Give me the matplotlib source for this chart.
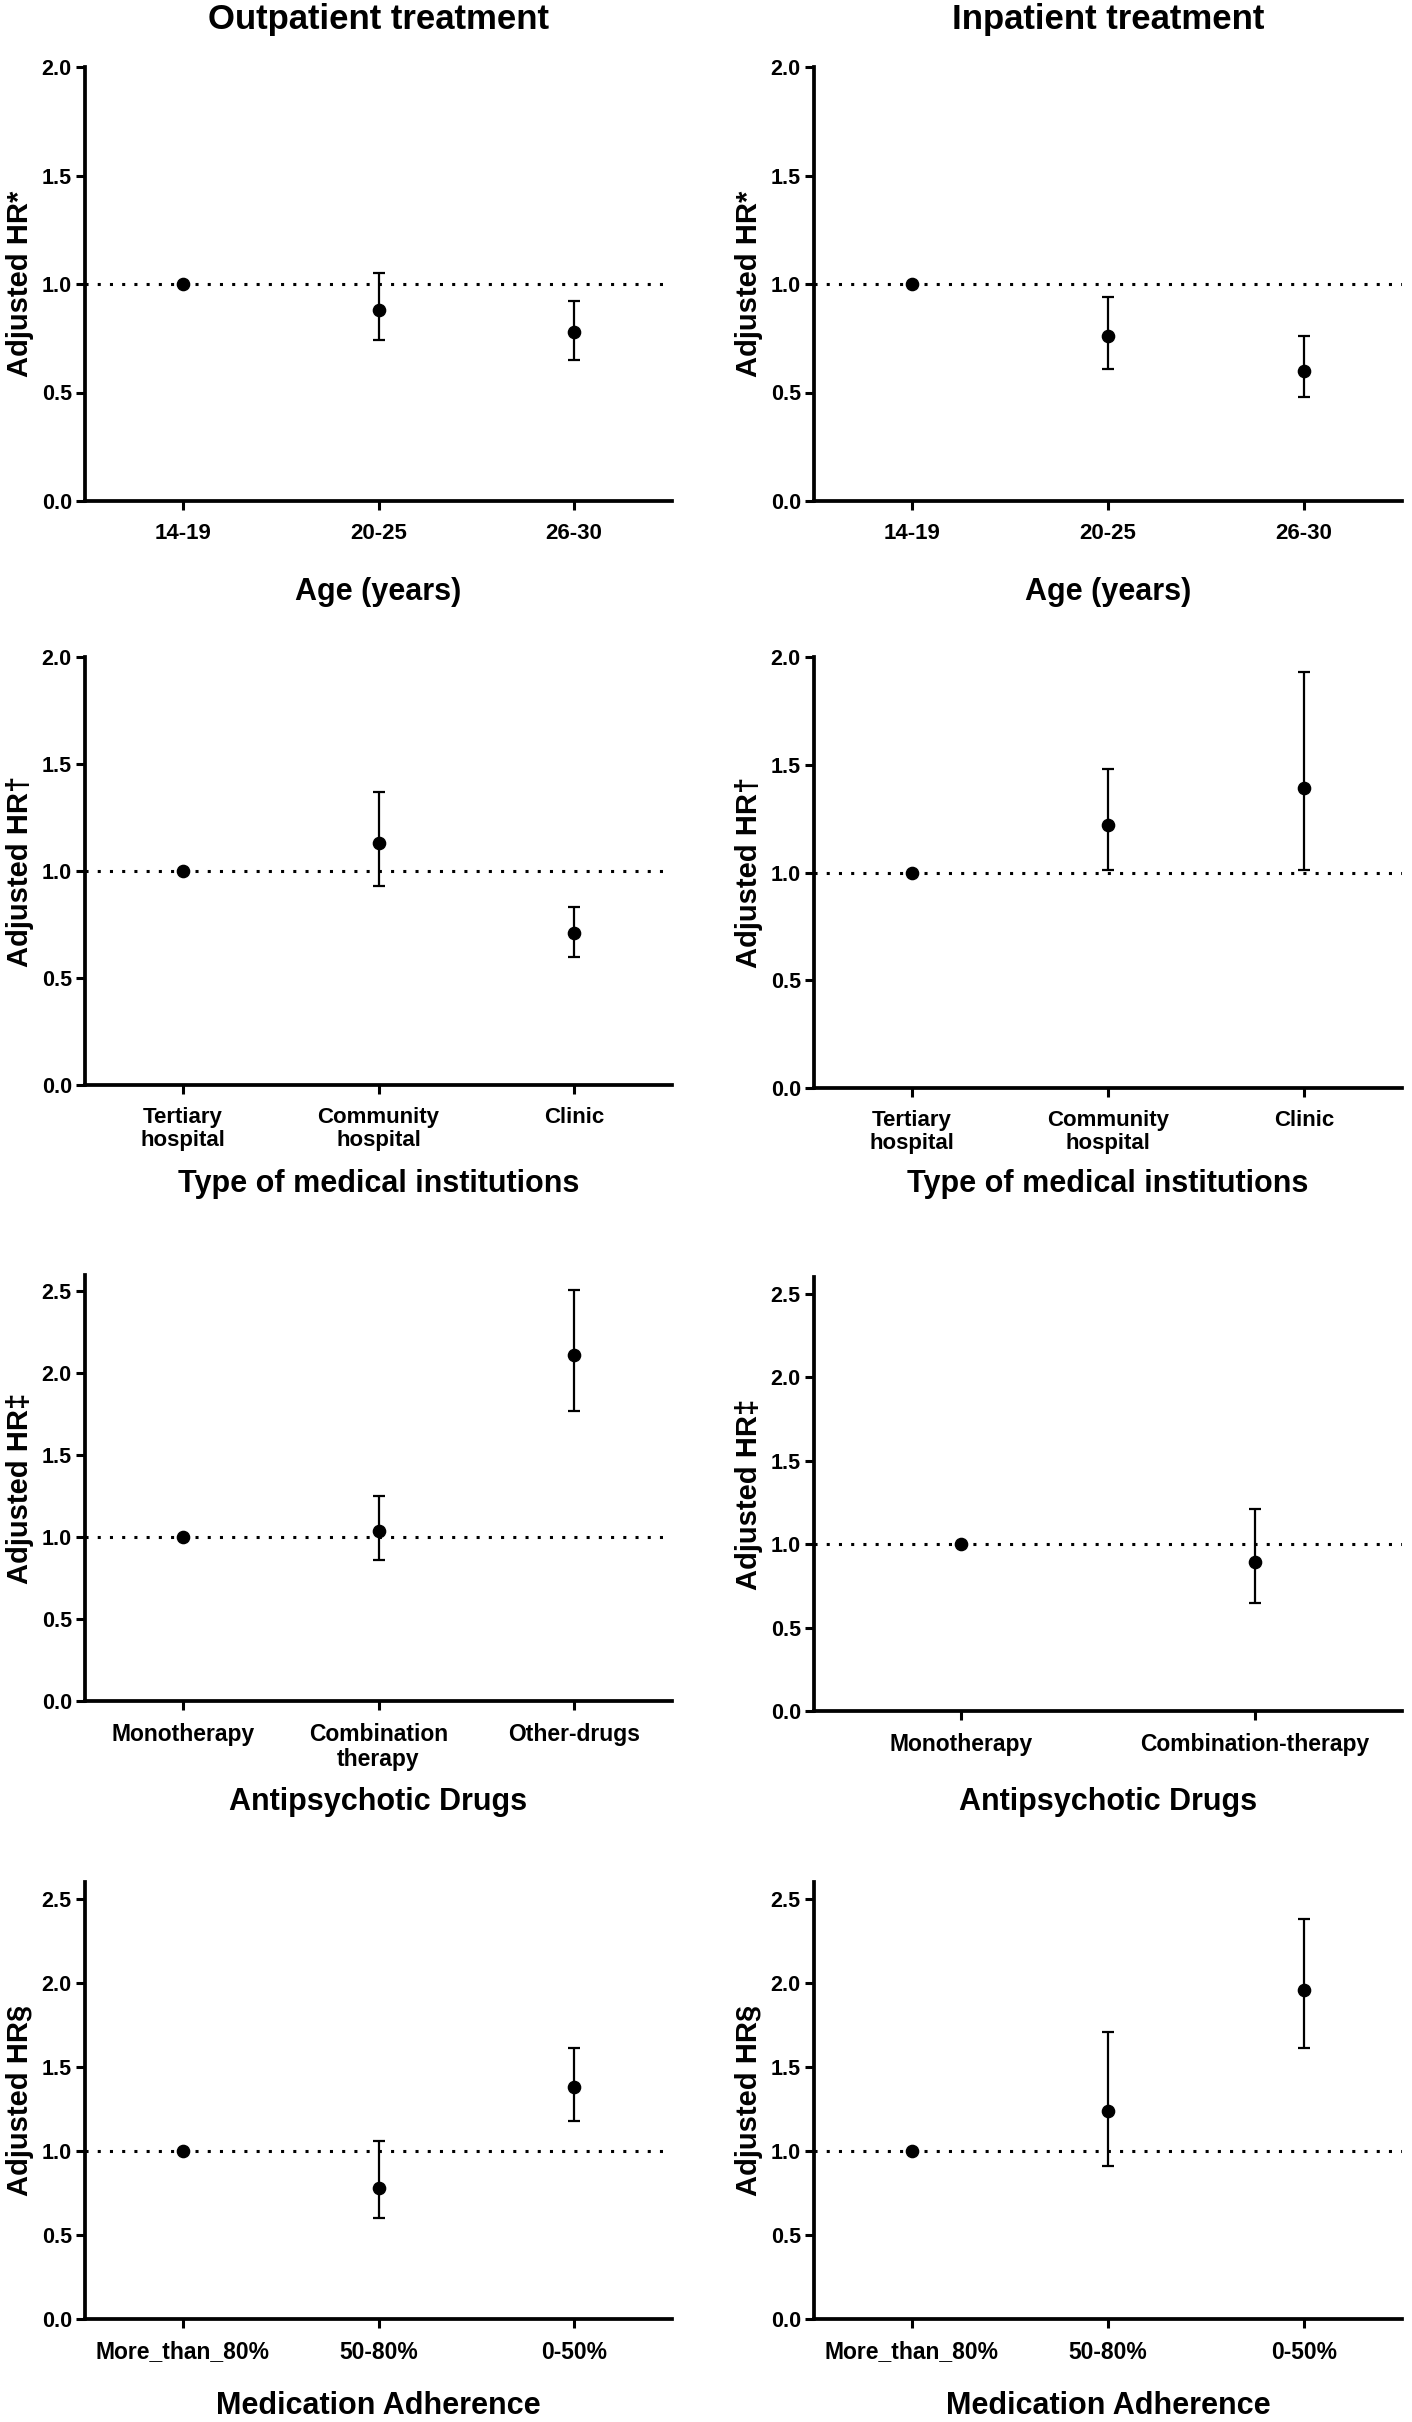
import matplotlib
matplotlib.use("Agg")
import matplotlib.pyplot as plt
import numpy as np

plt.rcParams['font.family'] = ['Liberation Sans', 'DejaVu Sans']
plt.rcParams['font.weight'] = 'bold'

# ---- data ----
age_labels = ['14-19', '20-25', '26-30']
out_age_hr = [1.0, 0.88, 0.78]
out_age_lo = [1.0, 0.74, 0.65]
out_age_hi = [1.0, 1.05, 0.92]
in_age_hr = [1.0, 0.76, 0.60]
in_age_lo = [1.0, 0.61, 0.48]
in_age_hi = [1.0, 0.94, 0.76]

inst_labels = ['Tertiary\nhospital', 'Community\nhospital', 'Clinic']
out_inst_hr = [1.0, 1.13, 0.71]
out_inst_lo = [1.0, 0.93, 0.60]
out_inst_hi = [1.0, 1.37, 0.83]
in_inst_hr = [1.0, 1.22, 1.39]
in_inst_lo = [1.0, 1.01, 1.01]
in_inst_hi = [1.0, 1.48, 1.93]

out_drug_labels = ['Monotherapy', 'Combination\ntherapy', 'Other-drugs']
out_drug_hr = [1.0, 1.04, 2.11]
out_drug_lo = [1.0, 0.86, 1.77]
out_drug_hi = [1.0, 1.25, 2.51]
in_drug_labels = ['Monotherapy', 'Combination-therapy']
in_drug_hr = [1.0, 0.89]
in_drug_lo = [1.0, 0.65]
in_drug_hi = [1.0, 1.21]

adh_labels = ['More_than_80%', '50-80%', '0-50%']
out_adh_hr = [1.0, 0.78, 1.38]
out_adh_lo = [1.0, 0.60, 1.18]
out_adh_hi = [1.0, 1.06, 1.61]
in_adh_hr = [1.0, 1.24, 1.96]
in_adh_lo = [1.0, 0.91, 1.61]
in_adh_hi = [1.0, 1.71, 2.38]

W, H = 1412, 2422
fig = plt.figure(figsize=(W / 100, H / 100), dpi=100)

# panel boxes in pixels: x0, y0 (top), x1, y1 (bottom)
panels = [
    ((85, 67, 672, 501), age_labels, out_age_hr, out_age_lo, out_age_hi,
     'Adjusted HR*', 'Age (years)', 2.0, 16, 592, 'center'),
    ((814, 67, 1402, 501), age_labels, in_age_hr, in_age_lo, in_age_hi,
     'Adjusted HR*', 'Age (years)', 2.0, 16, 592, 'center'),
    ((85, 657, 672, 1085), inst_labels, out_inst_hr, out_inst_lo, out_inst_hi,
     'Adjusted HR\u2020', 'Type of medical institutions', 2.0, 16, 1184, 'center'),
    ((814, 657, 1402, 1088), inst_labels, in_inst_hr, in_inst_lo, in_inst_hi,
     'Adjusted HR\u2020', 'Type of medical institutions', 2.0, 16, 1184, 'center'),
    ((85, 1275, 672, 1701), out_drug_labels, out_drug_hr, out_drug_lo, out_drug_hi,
     'Adjusted HR\u2021', 'Antipsychotic Drugs', 2.6, 16.5, 1802, 'center'),
    ((814, 1277, 1402, 1711), in_drug_labels, in_drug_hr, in_drug_lo, in_drug_hi,
     'Adjusted HR\u2021', 'Antipsychotic Drugs', 2.6, 16.5, 1802, 'center'),
    ((85, 1882, 672, 2319), adh_labels, out_adh_hr, out_adh_lo, out_adh_hi,
     'Adjusted HR\u00a7', 'Medication Adherence', 2.6, 16.5, 2421, 'bottom'),
    ((814, 1882, 1402, 2319), adh_labels, in_adh_hr, in_adh_lo, in_adh_hi,
     'Adjusted HR\u00a7', 'Medication Adherence', 2.6, 16.5, 2421, 'bottom'),
]

for box, labels, hr, lo, hi, ylab, xlab, ytop, tfs, xlab_y, xlab_va in panels:
    x0, y0, x1, y1 = box
    ax = fig.add_axes([x0 / W, 1 - y1 / H, (x1 - x0) / W, (y1 - y0) / H])
    x = np.arange(len(labels))
    hr = np.array(hr)
    yerr = [hr - np.array(lo), np.array(hi) - hr]

    ax.axhline(1.0, color='black', lw=2.2, linestyle=(0, (1, 3)), zorder=1)
    ax.errorbar(x, hr, yerr=yerr, fmt='o', color='black', ms=8.8,
                elinewidth=1.6, capsize=4.3, capthick=1.6, zorder=3)

    ax.set_xlim(-0.5, len(labels) - 0.5)
    ax.set_ylim(0, ytop)
    yt = np.arange(0, min(ytop, 2.5) + 0.01, 0.5)
    ax.set_yticks(yt)
    ax.set_yticklabels([f'{v:.1f}' for v in yt], fontsize=15.5,
                       fontweight='bold')
    ax.set_xticks(x)
    ax.set_xticklabels(labels, fontsize=tfs, fontweight='bold', linespacing=1.15)

    for side in ('top', 'right'):
        ax.spines[side].set_visible(False)
    for side in ('left', 'bottom'):
        ax.spines[side].set_linewidth(2.7)
    ax.tick_params(axis='both', direction='out', length=6.5, width=2.2)
    ax.tick_params(axis='x', pad=9)
    ax.tick_params(axis='y', pad=3)

    cx = (x0 + x1) / 2
    fig.text(cx / W, 1 - xlab_y / H, xlab, ha='center', va=xlab_va,
             fontsize=22, fontweight='bold')
    fig.text((x0 - 65) / W, 1 - ((y0 + y1) / 2) / H, ylab, rotation=90,
             ha='center', va='center', fontsize=21, fontweight='bold')

fig.text(378 / W, 1 - 28.5 / H, 'Outpatient treatment', ha='center',
         va='baseline', fontsize=25, fontweight='bold')
fig.text(1108 / W, 1 - 28.5 / H, 'Inpatient treatment', ha='center',
         va='baseline', fontsize=25, fontweight='bold')

fig.savefig('out.png', dpi=100)
plt.close(fig)
